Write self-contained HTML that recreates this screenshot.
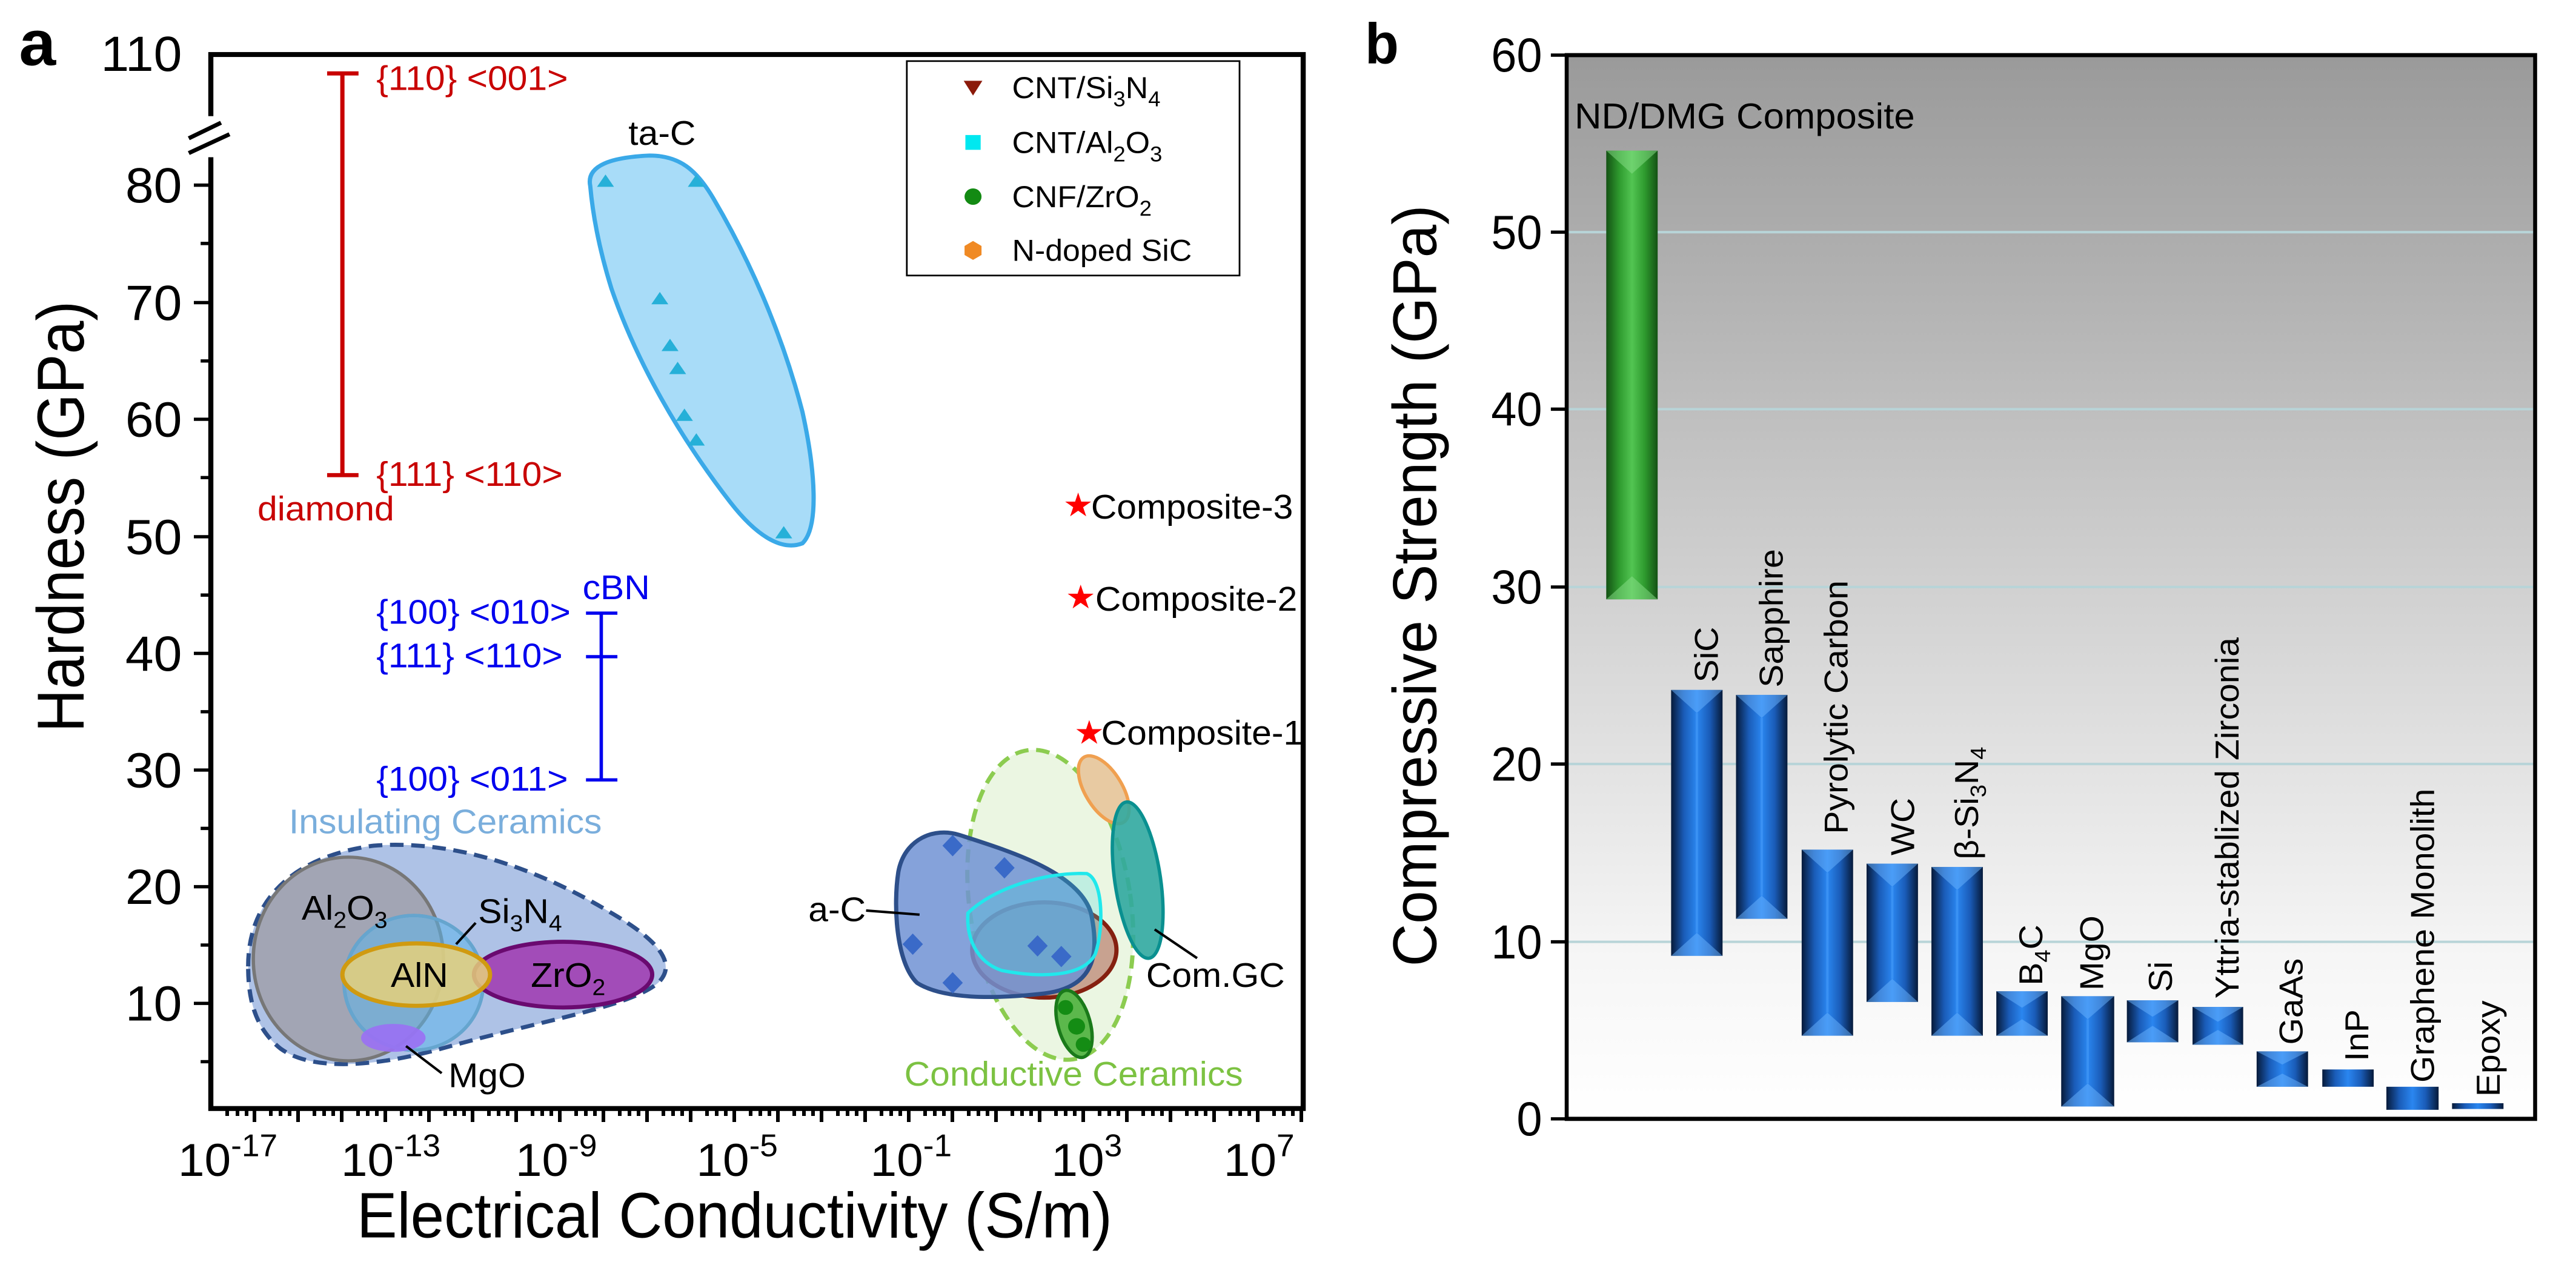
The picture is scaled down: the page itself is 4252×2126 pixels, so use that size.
<!DOCTYPE html>
<html><head><meta charset="utf-8"><style>
html,body{margin:0;padding:0;background:#fff;}
svg{display:block;font-family:"Liberation Sans",Arial,sans-serif;}
</style></head><body>
<svg width="4252" height="2126" viewBox="0 0 4252 2126" xmlns="http://www.w3.org/2000/svg">
<defs>
<linearGradient id="bg" x1="0" y1="0" x2="0" y2="1">
<stop offset="0" stop-color="#9a9a9a"/><stop offset="0.55" stop-color="#d6d6d6"/><stop offset="0.85" stop-color="#f6f6f6"/><stop offset="1" stop-color="#ffffff"/>
</linearGradient>
<linearGradient id="blue" x1="0" y1="0" x2="1" y2="0">
<stop offset="0" stop-color="#061a3a"/><stop offset="0.25" stop-color="#1a5cb8"/><stop offset="0.5" stop-color="#2a86f0"/><stop offset="0.75" stop-color="#1a5cb8"/><stop offset="1" stop-color="#061a3a"/>
</linearGradient>
<linearGradient id="green" x1="0" y1="0" x2="1" y2="0">
<stop offset="0" stop-color="#145214"/><stop offset="0.25" stop-color="#2e9a2e"/><stop offset="0.5" stop-color="#52c552"/><stop offset="0.75" stop-color="#2e9a2e"/><stop offset="1" stop-color="#145214"/>
</linearGradient>
</defs>

<!-- ================= PANEL A ================= -->
<g transform="translate(348,90) scale(1.401,1.356) translate(-248,-65)">
<text x="22" y="78" font-size="78" font-weight="bold">a</text>
<!-- insulating -->
<path d="M292,1175 C292,1090 350,1040 440,1028 C540,1020 640,1060 720,1110 C770,1140 800,1170 775,1195 C740,1225 640,1240 520,1275 C450,1295 370,1305 330,1275 C300,1250 292,1215 292,1175 Z" fill="#aec2e6" stroke="#2d4f8a" stroke-width="5" stroke-dasharray="16,9"/>
<ellipse cx="410" cy="1166" rx="112" ry="124" fill="#a0a0aa" fill-opacity="0.85" stroke="#777" stroke-width="4"/>
<circle cx="487" cy="1195" r="82" fill="#5cb4ea" fill-opacity="0.55" stroke="#1a8ad8" stroke-width="4"/>
<circle cx="487" cy="1195" r="82" fill="none" stroke="#9ab8c8" stroke-width="4" stroke-opacity="0.6"/>
<ellipse cx="663" cy="1185" rx="105" ry="40" fill="#a24cb8" stroke="#6a0a70" stroke-width="5"/>
<ellipse cx="490" cy="1185" rx="87" ry="38" fill="#e6d07a" fill-opacity="0.85" stroke="#d09a10" stroke-width="5"/>
<ellipse cx="463" cy="1262" rx="38" ry="17" fill="#9a70f4" fill-opacity="0.9"/>
<line x1="478" y1="1272" x2="520" y2="1305" stroke="#000" stroke-width="3"/>
<line x1="537" y1="1148" x2="560" y2="1122" stroke="#000" stroke-width="3"/>
<text x="355" y="1118" font-size="42">Al<tspan font-size="28" dy="10">2</tspan><tspan dy="-10">O</tspan><tspan font-size="28" dy="10">3</tspan></text>
<text x="563" y="1122" font-size="42">Si<tspan font-size="28" dy="10">3</tspan><tspan dy="-10">N</tspan><tspan font-size="28" dy="10">4</tspan></text>
<text x="460" y="1200" font-size="42">AlN</text>
<text x="625" y="1200" font-size="42">ZrO<tspan font-size="28" dy="10">2</tspan></text>
<text x="528" y="1322" font-size="42">MgO</text>
<text x="340" y="1013" font-size="42" fill="#7aaedc">Insulating Ceramics</text>

<!-- conductive -->
<ellipse cx="1237" cy="1100" rx="95" ry="190" transform="rotate(-8 1237 1100)" fill="#ebf6e2" stroke="#8ccc50" stroke-width="5" stroke-dasharray="16,9"/>
<ellipse cx="1230" cy="1155" rx="85" ry="58" fill="#c8a290" stroke="#852010" stroke-width="5"/>
<path d="M1058,1060 C1065,1020 1100,1005 1130,1015 C1190,1035 1270,1060 1285,1110 C1295,1160 1290,1200 1230,1208 C1170,1215 1110,1215 1080,1195 C1055,1170 1052,1100 1058,1060 Z" fill="#7092d4" fill-opacity="0.85" stroke="#2d4f8a" stroke-width="5"/>
<path d="M1140,1110 C1170,1080 1230,1060 1280,1062 C1300,1070 1300,1130 1290,1160 C1275,1190 1220,1188 1180,1180 C1150,1170 1138,1140 1140,1110 Z" fill="#40d8e0" fill-opacity="0.25" stroke="#20e8ec" stroke-width="4"/>
<ellipse cx="1300" cy="960" rx="22" ry="46" transform="rotate(-30 1300 960)" fill="#e8caa2" stroke="#f0a050" stroke-width="4"/>
<ellipse cx="1340" cy="1070" rx="27" ry="96" transform="rotate(-8 1340 1070)" fill="#30a8a0" fill-opacity="0.9" stroke="#0a9090" stroke-width="4"/>
<ellipse cx="1265" cy="1245" rx="19" ry="42" transform="rotate(-15 1265 1245)" fill="#5cb84c" stroke="#1a7a1a" stroke-width="4"/>
<g fill="#3a6ac8">
<path d="M1122,1015 l12,13 l-12,13 l-12,-13z"/><path d="M1183,1042 l12,13 l-12,13 l-12,-13z"/>
<path d="M1075,1135 l12,13 l-12,13 l-12,-13z"/><path d="M1122,1182 l12,13 l-12,13 l-12,-13z"/>
<path d="M1222,1137 l12,13 l-12,13 l-12,-13z"/><path d="M1250,1150 l12,13 l-12,13 l-12,-13z"/>
</g>
<g fill="#148c14"><circle cx="1255" cy="1225" r="9"/><circle cx="1268" cy="1248" r="10"/><circle cx="1276" cy="1270" r="9"/></g>
<line x1="1020" y1="1107" x2="1083" y2="1112" stroke="#000" stroke-width="3"/>
<line x1="1360" y1="1130" x2="1410" y2="1165" stroke="#000" stroke-width="3"/>
<text x="952" y="1120" font-size="42">a-C</text>
<text x="1350" y="1200" font-size="42">Com.GC</text>
<text x="1065" y="1320" font-size="42" fill="#7cc242">Conductive Ceramics</text>

<!-- ta-C -->
<path d="M695,225 C690,200 720,190 765,188 C800,188 820,205 840,240 C880,310 920,400 945,500 C960,570 965,640 945,660 C920,670 890,650 860,610 C800,530 750,440 720,350 C705,300 698,260 695,225 Z" fill="#a8dcf8" stroke="#3aa9e8" stroke-width="5"/>
<g fill="#26b0d8">
<path d="M713,211 l10,15 h-20z"/><path d="M820,211 l10,15 h-20z"/><path d="M777,354 l10,15 h-20z"/>
<path d="M789,411 l10,15 h-20z"/><path d="M798,439 l10,15 h-20z"/><path d="M806,496 l10,15 h-20z"/>
<path d="M820,526 l10,15 h-20z"/><path d="M923,639 l10,15 h-20z"/>
</g>
<text x="740" y="175" font-size="42">ta-C</text>

<!-- diamond -->
<g stroke="#c80000" stroke-width="5"><line x1="403" y1="88" x2="403" y2="577"/><line x1="385" y1="88" x2="422" y2="88"/><line x1="385" y1="577" x2="422" y2="577"/></g>
<g fill="#c80000" font-size="42"><text x="443" y="108">{110} &lt;001&gt;</text><text x="443" y="590">{111} &lt;110&gt;</text><text x="303" y="632">diamond</text></g>
<!-- cBN -->
<g stroke="#0000ee" stroke-width="4"><line x1="708" y1="745" x2="708" y2="948"/><line x1="690" y1="745" x2="727" y2="745"/><line x1="690" y1="798" x2="727" y2="798"/><line x1="690" y1="948" x2="727" y2="948"/></g>
<g fill="#0000ee" font-size="42"><text x="443" y="758">{100} &lt;010&gt;</text><text x="443" y="811">{111} &lt;110&gt;</text><text x="443" y="961">{100} &lt;011&gt;</text><text x="686" y="728">cBN</text></g>
<!-- composites -->
<g fill="#ff0000" font-size="40">
<text x="1252" y="627">★</text><text x="1255" y="739">★</text><text x="1265" y="904">★</text></g>
<g font-size="42"><text x="1285" y="630">Composite-3</text><text x="1290" y="742">Composite-2</text><text x="1297" y="905">Composite-1</text></g>

<!-- legend -->
<rect x="1068" y="73" width="392" height="261" fill="#fff" stroke="#000" stroke-width="2"/>
<path d="M1135,97 h22 l-11,18z" fill="#8b1a0a"/>
<rect x="1137" y="163" width="18" height="18" fill="#00e8f0"/>
<circle cx="1146" cy="238" r="10" fill="#138a13"/>
<path d="M1146,292 l10,6 v11 l-10,6 l-10,-6 v-11z" fill="#f08a24"/>
<g font-size="37">
<text x="1192" y="118">CNT/Si<tspan font-size="26" dy="10">3</tspan><tspan dy="-10">N</tspan><tspan font-size="26" dy="10">4</tspan></text>
<text x="1192" y="185">CNT/Al<tspan font-size="26" dy="10">2</tspan><tspan dy="-10">O</tspan><tspan font-size="26" dy="10">3</tspan></text>
<text x="1192" y="251">CNF/ZrO<tspan font-size="26" dy="10">2</tspan></text>
<text x="1192" y="316">N-doped SiC</text>
</g>

<!-- axes -->
<rect x="248" y="65" width="1287" height="1283" fill="none" stroke="#000" stroke-width="6"/>
<g stroke="#000" stroke-width="4">
<line x1="228" y1="224" x2="248" y2="224"/><line x1="228" y1="367" x2="248" y2="367"/><line x1="228" y1="509" x2="248" y2="509"/><line x1="228" y1="652" x2="248" y2="652"/><line x1="228" y1="794" x2="248" y2="794"/><line x1="228" y1="936" x2="248" y2="936"/><line x1="228" y1="1078" x2="248" y2="1078"/><line x1="228" y1="1220" x2="248" y2="1220"/>
<line x1="236" y1="295" x2="248" y2="295"/><line x1="236" y1="438" x2="248" y2="438"/><line x1="236" y1="580" x2="248" y2="580"/><line x1="236" y1="723" x2="248" y2="723"/><line x1="236" y1="865" x2="248" y2="865"/><line x1="236" y1="1007" x2="248" y2="1007"/><line x1="236" y1="1149" x2="248" y2="1149"/><line x1="236" y1="1291" x2="248" y2="1291"/>
</g>
<rect x="225" y="140" width="50" height="50" fill="#fff"/>
<g stroke="#000" stroke-width="5"><line x1="222" y1="167" x2="260" y2="148"/><line x1="222" y1="185" x2="270" y2="162"/></g>
<g font-size="60" text-anchor="end">
<text x="214" y="85">110</text><text x="214" y="245">80</text><text x="214" y="388">70</text><text x="214" y="530">60</text><text x="214" y="673">50</text><text x="214" y="815">40</text><text x="214" y="957">30</text><text x="214" y="1099">20</text><text x="214" y="1241">10</text>
</g>
<g font-size="56" text-anchor="middle">
<text x="268" y="1430">10<tspan font-size="38" dy="-24">-17</tspan></text>
<text x="460" y="1430">10<tspan font-size="38" dy="-24">-13</tspan></text>
<text x="655" y="1430">10<tspan font-size="38" dy="-24">-9</tspan></text>
<text x="868" y="1430">10<tspan font-size="38" dy="-24">-5</tspan></text>
<text x="1073" y="1430">10<tspan font-size="38" dy="-24">-1</tspan></text>
<text x="1280" y="1430">10<tspan font-size="38" dy="-24">3</tspan></text>
<text x="1483" y="1430">10<tspan font-size="38" dy="-24">7</tspan></text>
</g>
<text x="420" y="1505" font-size="78" textLength="890" lengthAdjust="spacingAndGlyphs">Electrical Conductivity (S/m)</text>
<text transform="translate(98,890) rotate(-90)" font-size="78" textLength="525" lengthAdjust="spacingAndGlyphs">Hardness (GPa)</text>
</g>

<!-- ================= PANEL B ================= -->
<g transform="translate(2586,91) scale(1.306,1.359) translate(-293,-68)">
<text x="38" y="78" font-size="70" font-weight="bold">b</text>
<rect x="293" y="68" width="1224" height="1292" fill="url(#bg)"/>
<g stroke="#b8d4d8" stroke-width="3">
<line x1="293" y1="1145" x2="1517" y2="1145"/><line x1="293" y1="929" x2="1517" y2="929"/><line x1="293" y1="714" x2="1517" y2="714"/><line x1="293" y1="498" x2="1517" y2="498"/><line x1="293" y1="283" x2="1517" y2="283"/>
</g>
<text x="303" y="157" font-size="44" textLength="430" lengthAdjust="spacingAndGlyphs">ND/DMG Composite</text>
<!-- bars -->
<rect x="343" y="184" width="65" height="545" fill="url(#green)"/>
<path d="M343,184 h65 l-32.5,28z M343,729 h65 l-32.5,-28z" fill="#8ae08a" fill-opacity="0.5"/>
<g>
<rect x="425" y="839" width="65" height="323" fill="url(#blue)"/>
<rect x="507" y="845" width="65" height="272" fill="url(#blue)"/>
<rect x="590" y="1033" width="65" height="226" fill="url(#blue)"/>
<rect x="672" y="1050" width="65" height="168" fill="url(#blue)"/>
<rect x="754" y="1054" width="65" height="205" fill="url(#blue)"/>
<rect x="836" y="1205" width="65" height="54" fill="url(#blue)"/>
<rect x="918" y="1211" width="67" height="134" fill="url(#blue)"/>
<rect x="1001" y="1216" width="65" height="51" fill="url(#blue)"/>
<rect x="1084" y="1224" width="64" height="46" fill="url(#blue)"/>
<rect x="1165" y="1278" width="65" height="43" fill="url(#blue)"/>
<rect x="1248" y="1300" width="65" height="21" fill="url(#blue)"/>
<rect x="1329" y="1321" width="66" height="28" fill="url(#blue)"/>
<rect x="1412" y="1341" width="65" height="7" fill="url(#blue)"/>
</g>
<g fill="#5aa8ff" fill-opacity="0.35">
<rect x="456" y="867" width="3" height="267"/><rect x="538" y="873" width="3" height="216"/><rect x="621" y="1061" width="3" height="170"/><rect x="703" y="1078" width="3" height="112"/><rect x="785" y="1082" width="3" height="149"/><rect x="950" y="1239" width="3" height="78"/>
</g>
<g fill="#6ab4ff" fill-opacity="0.5">
<path d="M425,839 h65 l-32.5,28z M425,1162 h65 l-32.5,-28z"/>
<path d="M507,845 h65 l-32.5,28z M507,1117 h65 l-32.5,-28z"/>
<path d="M590,1033 h65 l-32.5,28z M590,1259 h65 l-32.5,-28z"/>
<path d="M672,1050 h65 l-32.5,28z M672,1218 h65 l-32.5,-28z"/>
<path d="M754,1054 h65 l-32.5,28z M754,1259 h65 l-32.5,-28z"/>
<path d="M836,1205 h65 l-32.5,20z M836,1259 h65 l-32.5,-20z"/>
<path d="M918,1211 h67 l-33.5,28z M918,1345 h67 l-33.5,-28z"/>
<path d="M1001,1216 h65 l-32.5,20z M1001,1267 h65 l-32.5,-20z"/>
<path d="M1084,1224 h64 l-32,18z M1084,1270 h64 l-32,-18z"/>
<path d="M1165,1278 h65 l-32.5,16z M1165,1321 h65 l-32.5,-16z"/>
</g>
<g font-size="42">
<text transform="translate(484,830) rotate(-90)">SiC</text>
<text transform="translate(566,836) rotate(-90)">Sapphire</text>
<text transform="translate(648,1014) rotate(-90)">Pyrolytic Carbon</text>
<text transform="translate(732,1040) rotate(-90)">WC</text>
<text transform="translate(813,1045) rotate(-90)">β-Si<tspan font-size="28" dy="10">3</tspan><tspan dy="-10">N</tspan><tspan font-size="28" dy="10">4</tspan></text>
<text transform="translate(894,1198) rotate(-90)">B<tspan font-size="28" dy="10">4</tspan><tspan dy="-10">C</tspan></text>
<text transform="translate(971,1204) rotate(-90)">MgO</text>
<text transform="translate(1058,1206) rotate(-90)">Si</text>
<text transform="translate(1142,1214) rotate(-90)">Yttria-stablized Zirconia</text>
<text transform="translate(1223,1270) rotate(-90)">GaAs</text>
<text transform="translate(1306,1290) rotate(-90)">InP</text>
<text transform="translate(1389,1316) rotate(-90)">Graphene Monolith</text>
<text transform="translate(1472,1333) rotate(-90)">Epoxy</text>
</g>
<path d="M293,68 H1517 V1360 H293 Z" fill="none" stroke="#000" stroke-width="5"/>
<g stroke="#000" stroke-width="4">
<line x1="273" y1="68" x2="293" y2="68"/><line x1="273" y1="283" x2="293" y2="283"/><line x1="273" y1="498" x2="293" y2="498"/><line x1="273" y1="714" x2="293" y2="714"/><line x1="273" y1="929" x2="293" y2="929"/><line x1="273" y1="1145" x2="293" y2="1145"/><line x1="273" y1="1360" x2="293" y2="1360"/>
</g>
<g font-size="58" text-anchor="end">
<text x="262" y="88">60</text><text x="262" y="303">50</text><text x="262" y="518">40</text><text x="262" y="734">30</text><text x="262" y="949">20</text><text x="262" y="1165">10</text><text x="262" y="1380">0</text>
</g>
<text transform="translate(128,1175) rotate(-90)" font-size="78" textLength="925" lengthAdjust="spacingAndGlyphs">Compressive Strength (GPa)</text>
</g>

<!-- panel a x ticks (original coords) -->
<g stroke="#000" stroke-width="6">
<path d="M375,1830v12M392,1830v12M407,1830v12M420,1830v22 M447,1830v12M463,1830v12M478,1830v12M492,1830v22 M519,1830v12M535,1830v12M550,1830v12M564,1830v22 M591,1830v12M607,1830v12M622,1830v12M636,1830v22 M663,1830v12M679,1830v12M694,1830v12M708,1830v22 M735,1830v12M751,1830v12M766,1830v12M780,1830v22 M807,1830v12M823,1830v12M838,1830v12M852,1830v22 M879,1830v12M895,1830v12M910,1830v12M924,1830v22 M951,1830v12M967,1830v12M982,1830v12M996,1830v22 M1023,1830v12M1039,1830v12M1054,1830v12M1068,1830v22 M1095,1830v12M1111,1830v12M1126,1830v12M1140,1830v22 M1167,1830v12M1183,1830v12M1198,1830v12M1212,1830v22 M1239,1830v12M1255,1830v12M1270,1830v12M1284,1830v22 M1311,1830v12M1327,1830v12M1342,1830v12M1356,1830v22 M1383,1830v12M1399,1830v12M1414,1830v12M1428,1830v22 M1455,1830v12M1471,1830v12M1486,1830v12M1500,1830v22 M1527,1830v12M1543,1830v12M1558,1830v12M1572,1830v22 M1599,1830v12M1615,1830v12M1630,1830v12M1644,1830v22 M1671,1830v12M1687,1830v12M1702,1830v12M1716,1830v22 M1743,1830v12M1759,1830v12M1774,1830v12M1788,1830v22 M1815,1830v12M1831,1830v12M1846,1830v12M1860,1830v22 M1887,1830v12M1903,1830v12M1918,1830v12M1932,1830v22 M1959,1830v12M1975,1830v12M1990,1830v12M2004,1830v22 M2031,1830v12M2047,1830v12M2062,1830v12M2076,1830v22 M2103,1830v12M2119,1830v12M2134,1830v12M2148,1830v22"/>
</g>
</svg>
</body></html>
